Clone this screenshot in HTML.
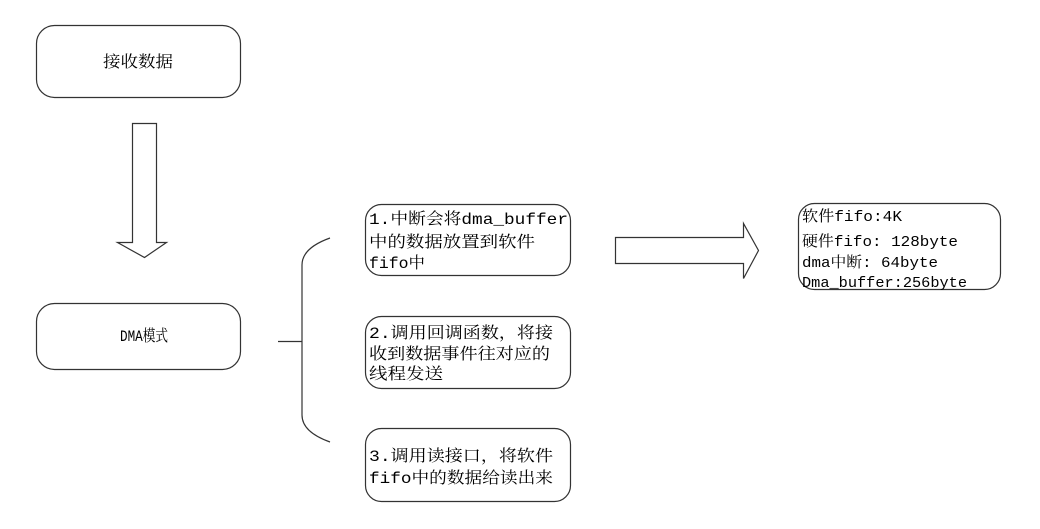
<!DOCTYPE html>
<html><head><meta charset="utf-8"><style>
html,body{margin:0;padding:0;background:#fff;width:1040px;height:529px;overflow:hidden}
svg{position:absolute;left:0;top:0}
text{font-family:"Liberation Mono","Noto Serif CJK SC","WenQuanYi Zen Hei",monospace;font-size:16px;fill:#000}
.r{font-size:15px}
</style></head><body>
<svg width="1040" height="529" viewBox="0 0 1040 529">
<g fill="none" stroke="#333" stroke-width="1.2">
<rect x="36.5" y="25.5" width="204" height="72" rx="18"/>
<rect x="36.5" y="303.5" width="204" height="66" rx="18"/>
<path d="M132.5 123.5 H156.5 V242.5 H166.5 L144.5 257.5 L117.5 242.5 H132.5 Z"/>
<path d="M278 341.5 H302 M330 238 Q302 248 302 265 V415 Q302 432 330 442"/>
<rect x="365.5" y="204.5" width="205" height="71" rx="16"/>
<rect x="365.5" y="316.5" width="205" height="72" rx="16"/>
<rect x="365.5" y="428.5" width="205" height="73" rx="16"/>
<path d="M615.5 237.5 H743.5 V223.5 L758.5 250.5 L743.5 278.5 V263.5 H615.5 Z"/>
<rect x="798.5" y="203.5" width="202" height="86" rx="16"/>
</g>
<text x="103" y="67" textLength="70" lengthAdjust="spacingAndGlyphs">接收数据</text>
<text x="120" y="341" textLength="48" lengthAdjust="spacingAndGlyphs">DMA模式</text>
<text x="369" y="224" textLength="199" lengthAdjust="spacingAndGlyphs">1.中断会将dma_buffer</text>
<text x="369" y="247" textLength="166" lengthAdjust="spacingAndGlyphs">中的数据放置到软件</text>
<text x="369" y="268" textLength="56" lengthAdjust="spacingAndGlyphs">fifo中</text>
<text x="369" y="338" textLength="184" lengthAdjust="spacingAndGlyphs">2.调用回调函数，将接</text>
<text x="369" y="359" textLength="181" lengthAdjust="spacingAndGlyphs">收到数据事件往对应的</text>
<text x="369" y="379" textLength="74" lengthAdjust="spacingAndGlyphs">线程发送</text>
<text x="369" y="461" textLength="184" lengthAdjust="spacingAndGlyphs">3.调用读接口，将软件</text>
<text x="369" y="483" textLength="184" lengthAdjust="spacingAndGlyphs">fifo中的数据给读出来</text>
<text class="r" x="802" y="221" textLength="100" lengthAdjust="spacingAndGlyphs">软件fifo:4K</text>
<text class="r" x="802" y="246" textLength="156" lengthAdjust="spacingAndGlyphs">硬件fifo: 128byte</text>
<text class="r" x="802" y="267" textLength="136" lengthAdjust="spacingAndGlyphs">dma中断: 64byte</text>
<text class="r" x="802" y="287" textLength="165" lengthAdjust="spacingAndGlyphs">Dma_buffer:256byte</text>
</svg>
</body></html>
